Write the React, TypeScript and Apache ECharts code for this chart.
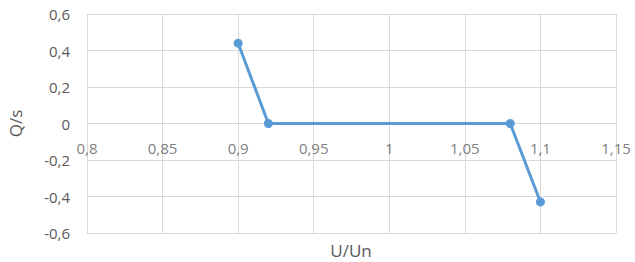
import React, { useEffect, useRef } from "react";
import * as echarts from "echarts";

const xValues = [0.9, 0.92, 1.08, 1.1];
const yValues = [0.44, 0.0, 0.0, -0.43];
const xTicks = [0.8, 0.85, 0.9, 0.95, 1.0, 1.05, 1.1, 1.15];
const xName = "U/Un";
const yName = "Q/s";

const fmt = (v: number) => String(+v.toFixed(2)).replace(".", ",");

export default function App() {
  const ref = useRef<HTMLDivElement>(null);
  useEffect(() => {
    document.body.style.margin = "0";
    const chart = echarts.init(ref.current!, null, { renderer: "svg" });
    const font = "'Open Sans', 'Liberation Sans', sans-serif";
    chart.setOption({
      animation: false,
      grid: { left: 87, right: 19, top: 14, bottom: 29, containLabel: false, outerBoundsMode: "none" },
      xAxis: {
        type: "value",
        min: 0.8,
        max: 1.15,
        interval: 0.05,
        axisLine: { show: false },
        axisTick: { show: false },
        axisLabel: { show: false },
        splitLine: { show: true, lineStyle: { color: "#d9d9d9" } },
      },
      yAxis: {
        type: "value",
        min: -0.6,
        max: 0.6,
        interval: 0.2,
        name: yName,
        nameLocation: "middle",
        nameGap: 63,
        nameTextStyle: { color: "#595959", fontSize: 17, fontFamily: font },
        axisLine: { show: false },
        axisTick: { show: false },
        axisLabel: { color: "#595959", fontSize: 15, fontFamily: font, margin: 17, formatter: fmt },
        splitLine: { show: true, lineStyle: { color: "#d9d9d9" } },
      },
      graphic: [
        {
          type: "text",
          x: 351,
          y: 250,
          style: {
            text: xName,
            fill: "#595959",
            font: `17px ${font}`,
            textAlign: "center",
            textVerticalAlign: "middle",
          },
        },
      ],
      series: [
        {
          type: "scatter",
          data: xTicks.map((x) => [x, 0]),
          symbol: "circle",
          symbolSize: 1,
          itemStyle: { color: "rgba(0,0,0,0)" },
          silent: true,
          labelLayout: { hideOverlap: false },
          label: {
            show: true,
            position: "bottom",
            distance: 16,
            color: "#595959",
            fontSize: 15,
            fontFamily: font,
            formatter: (p: any) => fmt(p.value[0]),
          },
          z: 1,
        },
        {
          type: "line",
          data: xValues.map((x, i) => [x, yValues[i]]),
          lineStyle: { color: "#5B9BD5", width: 3 },
          itemStyle: { color: "#5B9BD5" },
          symbol: "circle",
          symbolSize: 9,
          z: 3,
        },
      ],
    });
    return () => chart.dispose();
  }, []);
  return <div ref={ref} style={{ width: 635, height: 262 }} />;
}
